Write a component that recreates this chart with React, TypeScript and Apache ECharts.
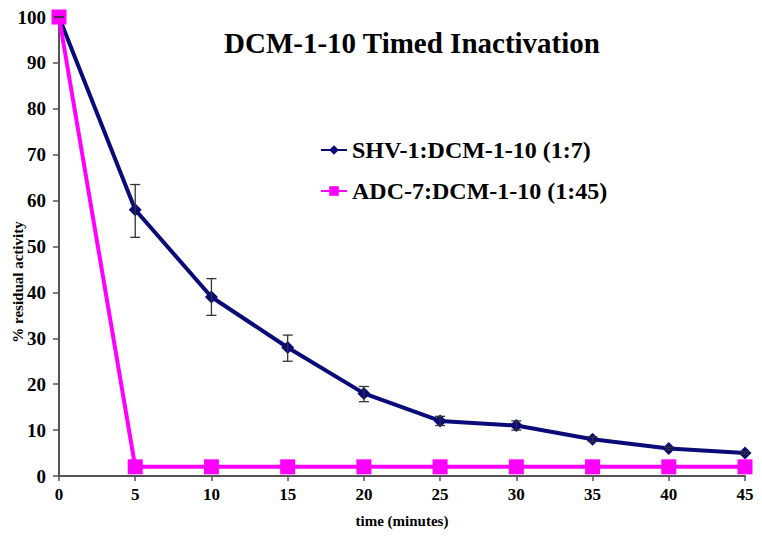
import React, { useEffect, useRef } from "react";
import * as echarts from "echarts";

const times = [0, 5, 10, 15, 20, 25, 30, 35, 40, 45];
const shvValues = [100, 58, 39, 28, 18, 12, 11, 8, 6, 5];
const shvErrLow = [100, 52, 35, 25, 16.2, 11, 10, 7.5, 5.7, 4.7];
const shvErrHigh = [100, 63.5, 43, 30.7, 19.5, 13, 12, 8.5, 6.3, 5.3];
const adcValues = [100, 2, 2, 2, 2, 2, 2, 2, 2, 2];
const seriesNames = ["SHV-1:DCM-1-10 (1:7)", "ADC-7:DCM-1-10 (1:45)"];
const titleText = "DCM-1-10 Timed Inactivation";
const xAxisTitle = "time (minutes)";
const yAxisTitle = "% residual activity";

const SERIF = "Liberation Serif";

export default function App() {
  const ref = useRef<HTMLDivElement>(null);
  useEffect(() => {
    if (!ref.current) return;
    const chart = echarts.init(ref.current, null, { renderer: "svg" });
    const errData = times.map((t, i) => [t, shvErrLow[i], shvErrHigh[i]]);
    chart.setOption({
      animation: false,
      backgroundColor: "#ffffff",
      textStyle: { fontFamily: SERIF },
      title: {
        text: titleText,
        left: 407,
        top: 23,
        textAlign: "center",
        textStyle: { fontFamily: SERIF, fontWeight: "bold", fontSize: 29, color: "#000" },
      },
      legend: {
        orient: "vertical",
        left: 315,
        top: 133,
        itemGap: 17,
        itemWidth: 26,
        itemHeight: 12,
        textStyle: { fontFamily: SERIF, fontWeight: "bold", fontSize: 24, color: "#000" },
        data: seriesNames,
      },
      graphic: [
        {
          type: "text",
          x: 18,
          y: 282,
          rotation: Math.PI / 2,
          style: {
            text: yAxisTitle,
            fontFamily: SERIF,
            fontWeight: "bold",
            fontSize: 15,
            fill: "#000",
            align: "center",
            verticalAlign: "middle",
          },
        },
      ],
      grid: { left: 59, right: 17, top: 17, bottom: 61, containLabel: false, outerBoundsMode: "none" },
      xAxis: {
        type: "value",
        min: 0,
        max: 45,
        interval: 5,
        name: xAxisTitle,
        nameLocation: "middle",
        nameGap: 37,
        nameTextStyle: { fontFamily: SERIF, fontWeight: "bold", fontSize: 15, color: "#000" },
        axisLine: { show: true, lineStyle: { color: "#555", width: 2 } },
        axisTick: { show: true, length: 5, lineStyle: { color: "#555", width: 1.5 } },
        axisLabel: { fontFamily: SERIF, fontWeight: "bold", fontSize: 17, color: "#000", margin: 10 },
        splitLine: { show: false },
      },
      yAxis: {
        type: "value",
        min: 0,
        max: 100,
        interval: 10,
        axisLine: { show: true, lineStyle: { color: "#555", width: 2 } },
        axisTick: { show: true, length: 6, lineStyle: { color: "#555", width: 1.5 } },
        axisLabel: { fontFamily: SERIF, fontWeight: "bold", fontSize: 19, color: "#000", margin: 13 },
        splitLine: { show: false },
      },
      series: [
        {
          name: seriesNames[0],
          type: "line",
          data: times.map((t, i) => [t, shvValues[i]]),
          symbol: "diamond",
          symbolSize: 13,
          itemStyle: { color: "#0a0a78" },
          lineStyle: { color: "#0a0a78", width: 4 },
          z: 3,
        },
        {
          name: seriesNames[1],
          type: "line",
          data: times.map((t, i) => [t, adcValues[i]]),
          symbol: "rect",
          symbolSize: 15,
          itemStyle: { color: "#ff00ff" },
          lineStyle: { color: "#ff00ff", width: 4 },
          z: 4,
        },
        {
          type: "custom",
          name: "err",
          data: errData,
          z: 5,
          renderItem: (params: any, api: any) => {
            const x = api.value(0);
            const lo = api.coord([x, api.value(1)]);
            const hi = api.coord([x, api.value(2)]);
            const w = 5;
            const style = { stroke: "#333", lineWidth: 1.3 };
            return {
              type: "group",
              children: [
                { type: "line", shape: { x1: lo[0], y1: lo[1], x2: hi[0], y2: hi[1] }, style },
                { type: "line", shape: { x1: lo[0] - w, y1: lo[1], x2: lo[0] + w, y2: lo[1] }, style },
                { type: "line", shape: { x1: hi[0] - w, y1: hi[1], x2: hi[0] + w, y2: hi[1] }, style },
              ],
            };
          },
        },
      ],
    });
    return () => chart.dispose();
  }, []);
  return <div ref={ref} style={{ width: 762, height: 537, position: "fixed", left: 0, top: 0 }} />;
}
